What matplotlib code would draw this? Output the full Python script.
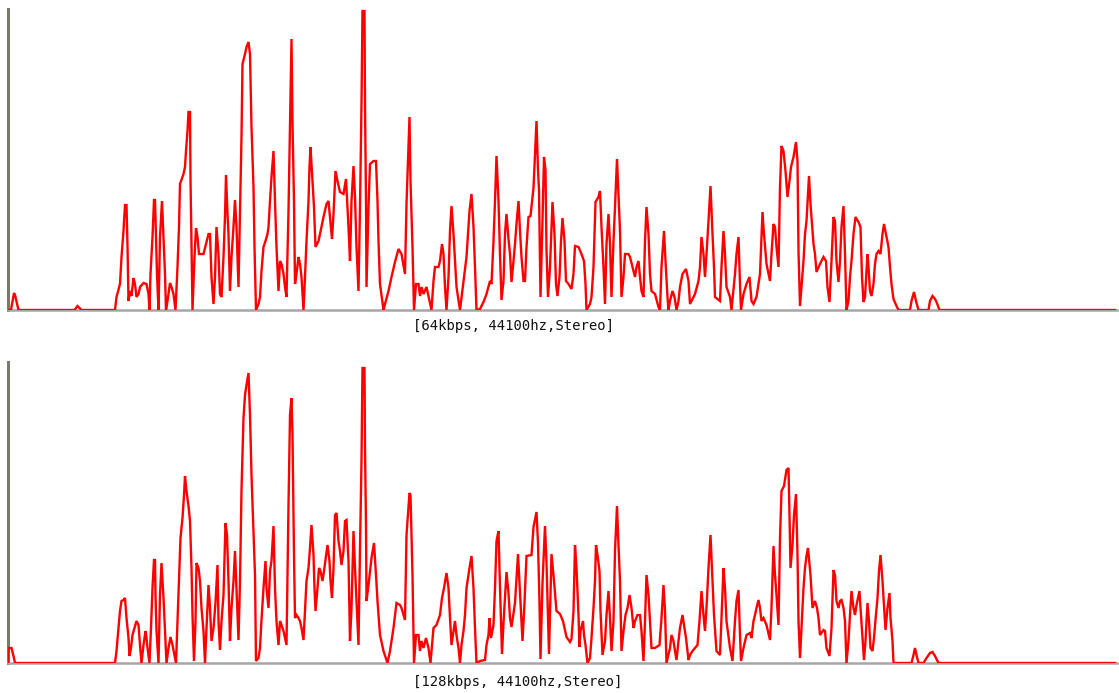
import numpy as np
import matplotlib
matplotlib.use("Agg")
import matplotlib.pyplot as plt

# spectrum traces: (frequency in Hz, magnitude) for each bitrate
SPEC_64K = [
    (0, 0), (60, 0), (120, 17), (140, 15), (210, 0), (1330, 0), (1390, 4), (1470, 0),
    (2140, 0), (2170, 13), (2240, 26), (2270, 53), (2310, 79), (2340, 105), (2370, 105),
    (2390, 64), (2410, 9), (2440, 19), (2470, 14), (2510, 32), (2540, 26), (2570, 13),
    (2610, 16), (2640, 23), (2710, 27), (2770, 26), (2810, 16), (2830, 0), (2850, 36),
    (2890, 73), (2920, 110), (2940, 110), (2960, 73), (2980, 36), (3010, 0), (3040, 73),
    (3080, 109), (3110, 73), (3140, 36), (3160, 0), (3190, 9), (3240, 27), (3270, 23),
    (3310, 16), (3350, 0), (3390, 43), (3420, 83), (3440, 126), (3510, 136), (3540, 143),
    (3560, 159), (3590, 179), (3610, 198), (3640, 198), (3650, 131), (3670, 66), (3690, 0),
    (3730, 53), (3760, 82), (3790, 73), (3820, 56), (3910, 56), (3970, 68), (4010, 76),
    (4040, 76), (4070, 33), (4110, 6), (4140, 33), (4170, 83), (4210, 56), (4240, 16),
    (4270, 13), (4310, 53), (4340, 94), (4360, 135), (4390, 96), (4410, 76), (4440, 19),
    (4470, 53), (4510, 83), (4540, 110), (4570, 83), (4610, 23), (4640, 96), (4670, 173),
    (4690, 246), (4740, 256), (4770, 263), (4810, 268), (4840, 256), (4870, 183), (4910, 123),
    (4930, 63), (4960, 0), (5010, 6), (5040, 13), (5070, 39), (5110, 63), (5150, 69),
    (5190, 76), (5210, 83), (5240, 109), (5270, 133), (5310, 159), (5340, 109), (5370, 63),
    (5410, 19), (5440, 49), (5470, 46), (5510, 36), (5540, 23), (5570, 13), (5610, 99),
    (5640, 186), (5670, 271), (5690, 186), (5720, 109), (5740, 26), (5770, 36), (5810, 53),
    (5840, 46), (5870, 33), (5910, 0), (5940, 33), (5970, 69), (6010, 109), (6030, 143),
    (6050, 163), (6090, 129), (6120, 103), (6150, 63), (6210, 69), (6240, 76), (6310, 93),
    (6370, 106), (6410, 109), (6440, 93), (6480, 71), (6510, 96), (6550, 139), (6590, 129),
    (6640, 118), (6710, 116), (6760, 131), (6790, 103), (6810, 83), (6840, 49), (6870, 109),
    (6910, 144), (6940, 113), (6970, 63), (7010, 19), (7040, 103), (7070, 206), (7090, 299),
    (7130, 299), (7140, 206), (7160, 109), (7170, 23), (7210, 103), (7240, 146), (7310, 149),
    (7360, 149), (7390, 109), (7410, 69), (7440, 26), (7510, 0), (7540, 6), (7610, 19),
    (7670, 33), (7740, 48), (7810, 61), (7870, 56), (7940, 36), (7970, 106), (8030, 193),
    (8050, 129), (8090, 63), (8120, 0), (8160, 26), (8210, 26), (8240, 14), (8270, 23),
    (8310, 16), (8370, 23), (8430, 9), (8470, 0), (8510, 29), (8540, 43), (8610, 43),
    (8640, 49), (8680, 66), (8710, 56), (8740, 23), (8770, 0), (8810, 33), (8840, 79),
    (8870, 104), (8910, 76), (8940, 49), (8970, 23), (9040, 0), (9110, 29), (9170, 53),
    (9230, 99), (9270, 116), (9310, 83), (9340, 43), (9370, 0), (9440, 1), (9510, 8),
    (9570, 16), (9640, 29), (9670, 26), (9710, 69), (9740, 109), (9770, 154), (9810, 109),
    (9840, 56), (9870, 10), (9910, 29), (9940, 76), (9970, 96), (10010, 71), (10040, 56),
    (10070, 28), (10110, 49), (10140, 66), (10170, 86), (10210, 109), (10240, 79),
    (10270, 53), (10310, 29), (10340, 29), (10370, 63), (10410, 93), (10450, 94),
    (10510, 122), (10540, 156), (10570, 189), (10600, 140), (10620, 120), (10650, 13),
    (10690, 90), (10720, 153), (10750, 140), (10770, 60), (10800, 13), (10840, 43),
    (10890, 108), (10930, 76), (10960, 26), (10990, 14), (11030, 33), (11060, 69),
    (11090, 92), (11130, 69), (11160, 29), (11210, 26), (11270, 21), (11310, 36),
    (11340, 64), (11410, 63), (11470, 56), (11520, 49), (11550, 26), (11570, 0), (11640, 6),
    (11670, 13), (11710, 43), (11730, 76), (11750, 108), (11810, 113), (11840, 119),
    (11870, 83), (11910, 43), (11940, 6), (11970, 66), (12010, 96), (12040, 66), (12070, 13),
    (12110, 69), (12140, 103), (12180, 151), (12210, 116), (12240, 79), (12270, 13),
    (12310, 33), (12340, 56), (12410, 56), (12440, 53), (12490, 43), (12540, 33),
    (12570, 43), (12610, 49), (12640, 33), (12670, 19), (12710, 13), (12740, 69),
    (12770, 103), (12810, 76), (12840, 36), (12870, 19), (12940, 16), (13010, 3),
    (13040, 0), (13070, 43), (13120, 79), (13150, 49), (13190, 13), (13210, 0), (13240, 9),
    (13290, 19), (13330, 13), (13370, 0), (13410, 9), (13440, 23), (13490, 36), (13560, 41),
    (13610, 29), (13640, 6), (13670, 9), (13740, 16), (13810, 29), (13840, 43), (13870, 73),
    (13910, 56), (13940, 33), (13970, 56), (14010, 89), (14050, 124), (14090, 76),
    (14120, 43), (14140, 13), (14240, 9), (14270, 43), (14310, 79), (14340, 56), (14370, 23),
    (14440, 13), (14470, 0), (14540, 36), (14570, 56), (14610, 73), (14640, 26), (14660, 0),
    (14710, 16), (14770, 26), (14830, 33), (14870, 9), (14910, 6), (14970, 13), (15040, 36),
    (15090, 98), (15120, 76), (15170, 46), (15240, 29), (15270, 56), (15310, 86), (15340, 83),
    (15370, 63), (15410, 43), (15440, 123), (15470, 164), (15510, 159), (15550, 139),
    (15590, 113), (15630, 129), (15660, 143), (15710, 153), (15760, 168), (15790, 149),
    (15810, 59), (15840, 4), (15870, 23), (15910, 49), (15940, 76), (15970, 89),
    (16020, 134), (16050, 106), (16110, 66), (16140, 56), (16170, 38), (16240, 46),
    (16310, 53), (16360, 49), (16390, 23), (16430, 8), (16470, 49), (16510, 93), (16540, 89),
    (16570, 49), (16610, 28), (16640, 49), (16670, 83), (16710, 104), (16740, 56),
    (16770, 0), (16810, 9), (16840, 33), (16870, 49), (16910, 76), (16950, 93), (17010, 88),
    (17050, 83), (17080, 33), (17110, 8), (17140, 13), (17190, 56), (17210, 43), (17240, 19),
    (17270, 14), (17310, 26), (17340, 46), (17370, 56), (17410, 59), (17450, 56), (17490, 76),
    (17520, 86), (17560, 76), (17610, 63), (17640, 43), (17670, 26), (17710, 11), (17770, 4),
    (17810, 0), (18040, 0), (18070, 9), (18120, 18), (18160, 9), (18210, 0), (18410, 0),
    (18440, 9), (18490, 14), (18540, 11), (18570, 8), (18630, 0), (22140, 0),
]

SPEC_128K = [
    (0, 0), (10, 15), (70, 15), (110, 7), (140, 0), (2140, 0), (2170, 12), (2210, 35),
    (2240, 52), (2270, 62), (2310, 63), (2340, 65), (2370, 45), (2410, 25), (2430, 7),
    (2460, 15), (2490, 28), (2530, 35), (2570, 42), (2610, 38), (2640, 18), (2670, 0),
    (2710, 18), (2750, 32), (2770, 25), (2790, 15), (2830, 0), (2860, 35), (2890, 75),
    (2920, 103), (2940, 103), (2950, 68), (2970, 32), (3010, 0), (3040, 68), (3070, 100),
    (3110, 65), (3140, 33), (3170, 0), (3210, 15), (3250, 26), (3290, 18), (3330, 8),
    (3360, 0), (3390, 42), (3420, 82), (3450, 125), (3490, 145), (3520, 168), (3540, 187),
    (3570, 172), (3610, 157), (3640, 142), (3670, 95), (3690, 48), (3720, 2), (3750, 42),
    (3770, 100), (3810, 95), (3840, 82), (3870, 55), (3910, 32), (3940, 0), (3970, 35),
    (4010, 78), (4040, 55), (4070, 22), (4110, 35), (4150, 60), (4190, 98), (4210, 42),
    (4240, 13), (4270, 42), (4310, 68), (4350, 140), (4380, 128), (4410, 82), (4440, 22),
    (4470, 55), (4510, 82), (4540, 112), (4570, 75), (4610, 23), (4640, 82), (4670, 173),
    (4710, 245), (4740, 268), (4770, 278), (4810, 290), (4840, 248), (4870, 188),
    (4910, 132), (4940, 88), (4960, 2), (5010, 5), (5040, 15), (5070, 43), (5110, 75),
    (5150, 102), (5170, 75), (5210, 55), (5240, 92), (5270, 102), (5310, 137), (5340, 75),
    (5370, 42), (5410, 18), (5440, 42), (5470, 38), (5510, 32), (5540, 25), (5570, 18),
    (5610, 158), (5640, 248), (5670, 265), (5690, 228), (5720, 108), (5740, 45), (5770, 48),
    (5810, 45), (5840, 42), (5870, 35), (5910, 23), (5940, 52), (5970, 82), (6010, 95),
    (6040, 115), (6070, 138), (6110, 108), (6130, 75), (6150, 52), (6190, 75), (6220, 95),
    (6250, 92), (6290, 82), (6320, 92), (6350, 103), (6390, 118), (6430, 102), (6450, 82),
    (6480, 65), (6510, 95), (6540, 148), (6570, 150), (6610, 122), (6640, 112), (6670, 98),
    (6710, 112), (6740, 142), (6770, 143), (6810, 102), (6840, 22), (6870, 55), (6910, 132),
    (6940, 95), (6970, 62), (7010, 18), (7040, 115), (7070, 202), (7090, 295), (7130, 295),
    (7140, 215), (7160, 138), (7170, 62), (7210, 78), (7270, 105), (7320, 120), (7360, 88),
    (7390, 62), (7440, 28), (7510, 12), (7590, 0), (7640, 12), (7710, 35), (7770, 60),
    (7840, 58), (7870, 55), (7940, 43), (7970, 128), (8030, 170), (8050, 168), (8090, 88),
    (8120, 0), (8160, 28), (8210, 28), (8240, 12), (8270, 22), (8310, 15), (8360, 25),
    (8410, 15), (8450, 0), (8510, 35), (8570, 38), (8640, 48), (8680, 65), (8720, 75),
    (8770, 90), (8810, 75), (8840, 45), (8870, 18), (8910, 32), (8940, 42), (8970, 28),
    (9010, 15), (9040, 0), (9070, 18), (9110, 32), (9140, 48), (9170, 75), (9230, 95),
    (9270, 107), (9310, 75), (9340, 35), (9370, 0), (9440, 2), (9540, 3), (9570, 18),
    (9610, 28), (9630, 45), (9660, 25), (9710, 38), (9740, 75), (9770, 122), (9810, 132),
    (9840, 75), (9880, 9), (9910, 40), (9970, 91), (10010, 70), (10040, 45),
    (10070, 36), (10110, 50), (10140, 60), (10200, 109), (10240, 70), (10290, 22),
    (10330, 60), (10370, 107), (10470, 108), (10510, 136), (10570, 151), (10600, 120),
    (10630, 60), (10650, 4), (10690, 80), (10740, 137), (10770, 100), (10820, 9),
    (10870, 109), (10920, 82), (10970, 52), (11040, 49), (11100, 42), (11170, 26),
    (11240, 21), (11270, 24), (11310, 52), (11340, 118), (11370, 95), (11410, 48),
    (11430, 16), (11450, 32), (11500, 42), (11520, 28), (11550, 18), (11590, 0),
    (11640, 5), (11670, 25), (11710, 55), (11740, 82), (11760, 118), (11790, 108),
    (11830, 92), (11850, 52), (11890, 8), (11940, 22), (11970, 48), (12010, 72),
    (12040, 45), (12070, 12), (12110, 42), (12140, 112), (12180, 157), (12210, 118),
    (12240, 82), (12270, 12), (12310, 32), (12350, 48), (12390, 55), (12430, 68),
    (12470, 55), (12510, 35), (12540, 42), (12590, 48), (12640, 48), (12670, 32),
    (12710, 2), (12740, 42), (12770, 88), (12810, 68), (12840, 42), (12870, 15), (12940, 15),
    (13030, 18), (13070, 45), (13110, 78), (13140, 52), (13170, 0), (13240, 15), (13270, 28),
    (13310, 22), (13340, 12), (13370, 3), (13410, 22), (13440, 35), (13490, 48), (13530, 35),
    (13560, 25), (13610, 3), (13640, 8), (13690, 12), (13740, 15), (13790, 18), (13830, 42),
    (13870, 72), (13910, 48), (13940, 32), (13970, 55), (14010, 95), (14050, 128),
    (14090, 82), (14120, 48), (14170, 12), (14240, 8), (14270, 45), (14310, 95), (14340, 75),
    (14370, 42), (14440, 15), (14490, 2), (14540, 42), (14570, 62), (14610, 73), (14640, 28),
    (14660, 2), (14710, 15), (14770, 28), (14840, 30), (14870, 25), (14910, 42), (14940, 48),
    (14970, 55), (15010, 63), (15040, 55), (15070, 42), (15110, 45), (15170, 38),
    (15240, 23), (15270, 55), (15310, 117), (15340, 88), (15370, 68), (15410, 38),
    (15440, 125), (15470, 172), (15520, 177), (15570, 193), (15610, 195), (15630, 148),
    (15650, 95), (15690, 118), (15720, 148), (15760, 169), (15790, 108), (15810, 42),
    (15840, 5), (15870, 35), (15910, 75), (15940, 95), (15970, 107), (16000, 115),
    (16050, 88), (16090, 55), (16140, 62), (16180, 55), (16210, 45), (16240, 28),
    (16310, 33), (16340, 32), (16370, 15), (16430, 7), (16470, 35), (16510, 93), (16540, 88),
    (16570, 62), (16610, 55), (16640, 62), (16670, 63), (16710, 55), (16740, 42), (16770, 0),
    (16810, 22), (16840, 48), (16870, 72), (16910, 55), (16940, 48), (16970, 58),
    (17030, 72), (17050, 55), (17090, 25), (17120, 3), (17150, 22), (17190, 60), (17220, 42),
    (17250, 15), (17290, 12), (17320, 25), (17350, 43), (17390, 65), (17420, 92),
    (17450, 108), (17490, 82), (17520, 58), (17550, 33), (17590, 55), (17630, 70),
    (17650, 45), (17690, 22), (17710, 0), (18070, 0), (18110, 8), (18140, 15), (18170, 8),
    (18210, 0), (18310, 0), (18370, 5), (18440, 10), (18490, 11), (18540, 7), (18610, 0),
    (22140, 0),
]

CAPTIONS = ["[64kbps, 44100hz,Stereo]", "[128kbps, 44100hz,Stereo]"]

W, H = 1119, 693
fig = plt.figure(figsize=(W / 100, H / 100), dpi=100)
fig.patch.set_facecolor("white")

# panel boxes in figure fractions: (left, bottom, width, height)
boxes = [
    (8 / W, (H - 310) / H, 1109 / W, 301 / H),
    (8 / W, (H - 663) / H, 1109 / W, 301 / H),
]
caption_y = [1 - 326 / H, 1 - 682 / H]

for spec, box, caption, cy in zip([SPEC_64K, SPEC_128K], boxes, CAPTIONS, caption_y):
    ax = fig.add_axes(box)
    freq, level = np.array(spec, dtype=float).T
    ax.plot(freq, level, color="#ff0000", lw=1.7, solid_joinstyle="miter", zorder=3)
    ax.set_xlim(0, 22180)
    ax.set_ylim(0, 301)
    for side in ("top", "right"):
        ax.spines[side].set_visible(False)
    ax.spines["left"].set_color("#7a7a6c")
    ax.spines["left"].set_linewidth(2.2)
    ax.spines["bottom"].set_color("#a6a6a6")
    ax.spines["bottom"].set_linewidth(1.8)
    ax.set_xticks([])
    ax.set_yticks([])
    ax.patch.set_alpha(0)
    fig.text(413 / W, cy, caption, ha="left", va="center",
             family="DejaVu Sans Mono", fontsize=10, color="#111111")

fig.savefig("out.png", dpi=100, facecolor="white")
